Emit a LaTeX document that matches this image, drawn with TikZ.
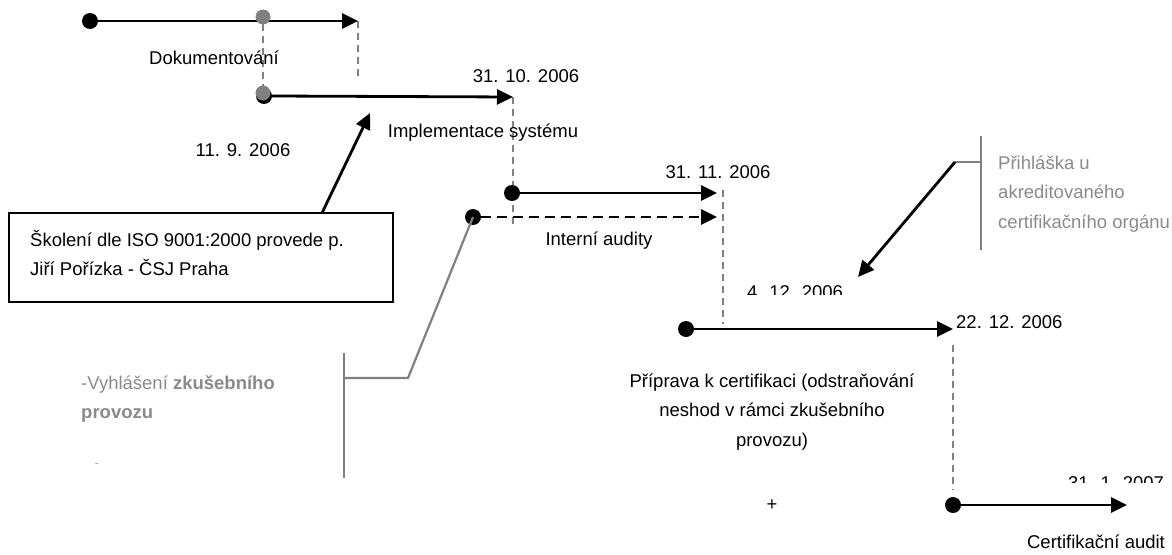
\documentclass[tikz,border=0pt]{standalone}
\usepackage{fontspec}
\setmainfont{Liberation Sans}
\usetikzlibrary{arrows.meta}
\definecolor{lg}{RGB}{128,128,128}
\definecolor{tg}{RGB}{138,138,138}
\begin{document}
\begin{tikzpicture}[x=1pt,y=-1pt,
  txt/.style={font=\fontsize{18.5}{29.5}\selectfont, inner sep=0pt},
  gtxt/.style={txt,text=tg},
  bdot/.style={circle,fill=black,inner sep=0pt,minimum size=16pt},
  gdot/.style={circle,fill=lg,inner sep=0pt,minimum size=15pt},
  arr/.style={line width=2.8pt,-{Triangle[length=16pt,width=15pt]}},
  darr/.style={arr,dash pattern=on 10pt off 6pt},
  vdash/.style={lg,line width=2.2pt,dash pattern=on 7pt off 5pt},
  gline/.style={lg,line width=2.2pt},
  boxst/.style={draw,line width=1.8pt,minimum width=384pt,minimum height=89pt,inner sep=0pt}
]
\useasboundingbox (0,0) rectangle (1172,554);

% coordinates
\coordinate (t1) at (358,21);
\coordinate (t2) at (513,97);
\coordinate (t3) at (717,193);
\coordinate (t3d) at (717,217);
\coordinate (t4) at (953,329);
\coordinate (t5) at (1127,505);

% dashed guides
\coordinate (v1a) at (263,24);  \coordinate (v1b) at (263,88);
\coordinate (v2a) at (358,21);  \coordinate (v2b) at (358,80);
\coordinate (v3a) at (513,97);  \coordinate (v3b) at (513,228);
\coordinate (v4a) at (723,190); \coordinate (v4b) at (723,324);
\coordinate (v5a) at (953,345); \coordinate (v5b) at (953,490);
\draw[vdash] (v1a) -- (v1b);
\draw[vdash] (v2a) -- (v2b);
\draw[vdash] (v3a) -- (v3b);
\draw[vdash] (v4a) -- (v4b);
\draw[vdash] (v5a) -- (v5b);

% arrow 1
\node[bdot] (d1) at (90,21) {};
\draw[arr] (d1.center) -- (t1);
\node[gdot] (g1) at (263,17) {};
\node[txt] (l1) at (214,58) {Dokumentování};

% arrow 2
\node[bdot] (s2) at (264,96) {};
\node[gdot] (g2) at (263,93) {};
\draw[arr] (s2.east) -- (t2);
\node[txt] (dt2) at (526,76) {31. 10. 2006};
\node[txt] (l2) at (483,133) {Implementace systému};
\node[txt] (dt1) at (243,150) {11. 9. 2006};

% box
\node[boxst] (box) at (201,257.5) {};
\node[txt,align=left,anchor=west] (boxt) at (30,253) {Školení dle ISO 9001:2000 provede p.\\Jiří Pořízka - ČSJ Praha};
\coordinate (bt) at (322,213);
\coordinate (btip) at (370,113);
\draw[arr] (bt) -- (btip);

% arrow 3
\node[bdot] (d3) at (512,193) {};
\draw[arr] (d3.center) -- (t3);
\node[txt] (dt3) at (718,172) {31. 11. 2006};

% dashed arrow
\node[bdot] (d3d) at (473,217) {};
\draw[darr] (d3d.east) -- (t3d);
\node[txt] (l3) at (599,241) {Interní audity};

% gray callout left
\coordinate (gk) at (408,378);
\coordinate (gh) at (344,378);
\coordinate (gva) at (344,353);
\coordinate (gvb) at (344,478);
\draw[gline] (d3d.center) -- (gk) -- (gh);
\draw[gline] (gva) -- (gvb);
\node[gtxt,align=left,anchor=west] (vyh) at (81,399) {-Vyhlášení \textbf{zkušebního}\\\textbf{provozu}};
\node[gtxt,anchor=center] (mark) at (97,467) {\fontsize{10}{12}\selectfont ˘};

% gray callout right
\coordinate (ra) at (981,136);
\coordinate (rb) at (981,250);
\coordinate (rk) at (955,162);
\coordinate (rm) at (981,162);
\coordinate (rtip) at (858,277);
\draw[gline] (ra) -- (rb);
\draw[gline] (rk) -- (rm);
\draw[arr] (rk) -- (rtip);
\node[gtxt,align=left,anchor=west] (prih) at (998,194) {Přihláška u\\akreditovaného\\certifikačního orgánu};

% clipped date 4.12.2006
\begin{scope}
\clip (700,270) rectangle (900,294);
\node[txt,anchor=base] (dt4) at (795,298) {4. 12. 2006};
\end{scope}

% arrow 4
\node[bdot] (d4) at (686,329) {};
\draw[arr] (d4.center) -- (t4);
\node[txt,anchor=west] (dt5) at (956,322) {22. 12. 2006};
\node[txt,align=center] (l4) at (772,412) {Příprava k certifikaci (odstraňování\\neshod v rámci zkušebního\\provozu)};
\node[txt] (plus) at (772,505) {+};

% arrow 5
\node[bdot] (d5) at (953,505) {};
\draw[arr] (d5.center) -- (t5);
\begin{scope}
\clip (1050,470) rectangle (1172,482);
\node[txt,anchor=base] (dt6) at (1116,489) {31. 1. 2007};
\end{scope}
\node[txt] (l5) at (1096,542) {Certifikační audit};
\end{tikzpicture}
\end{document}
